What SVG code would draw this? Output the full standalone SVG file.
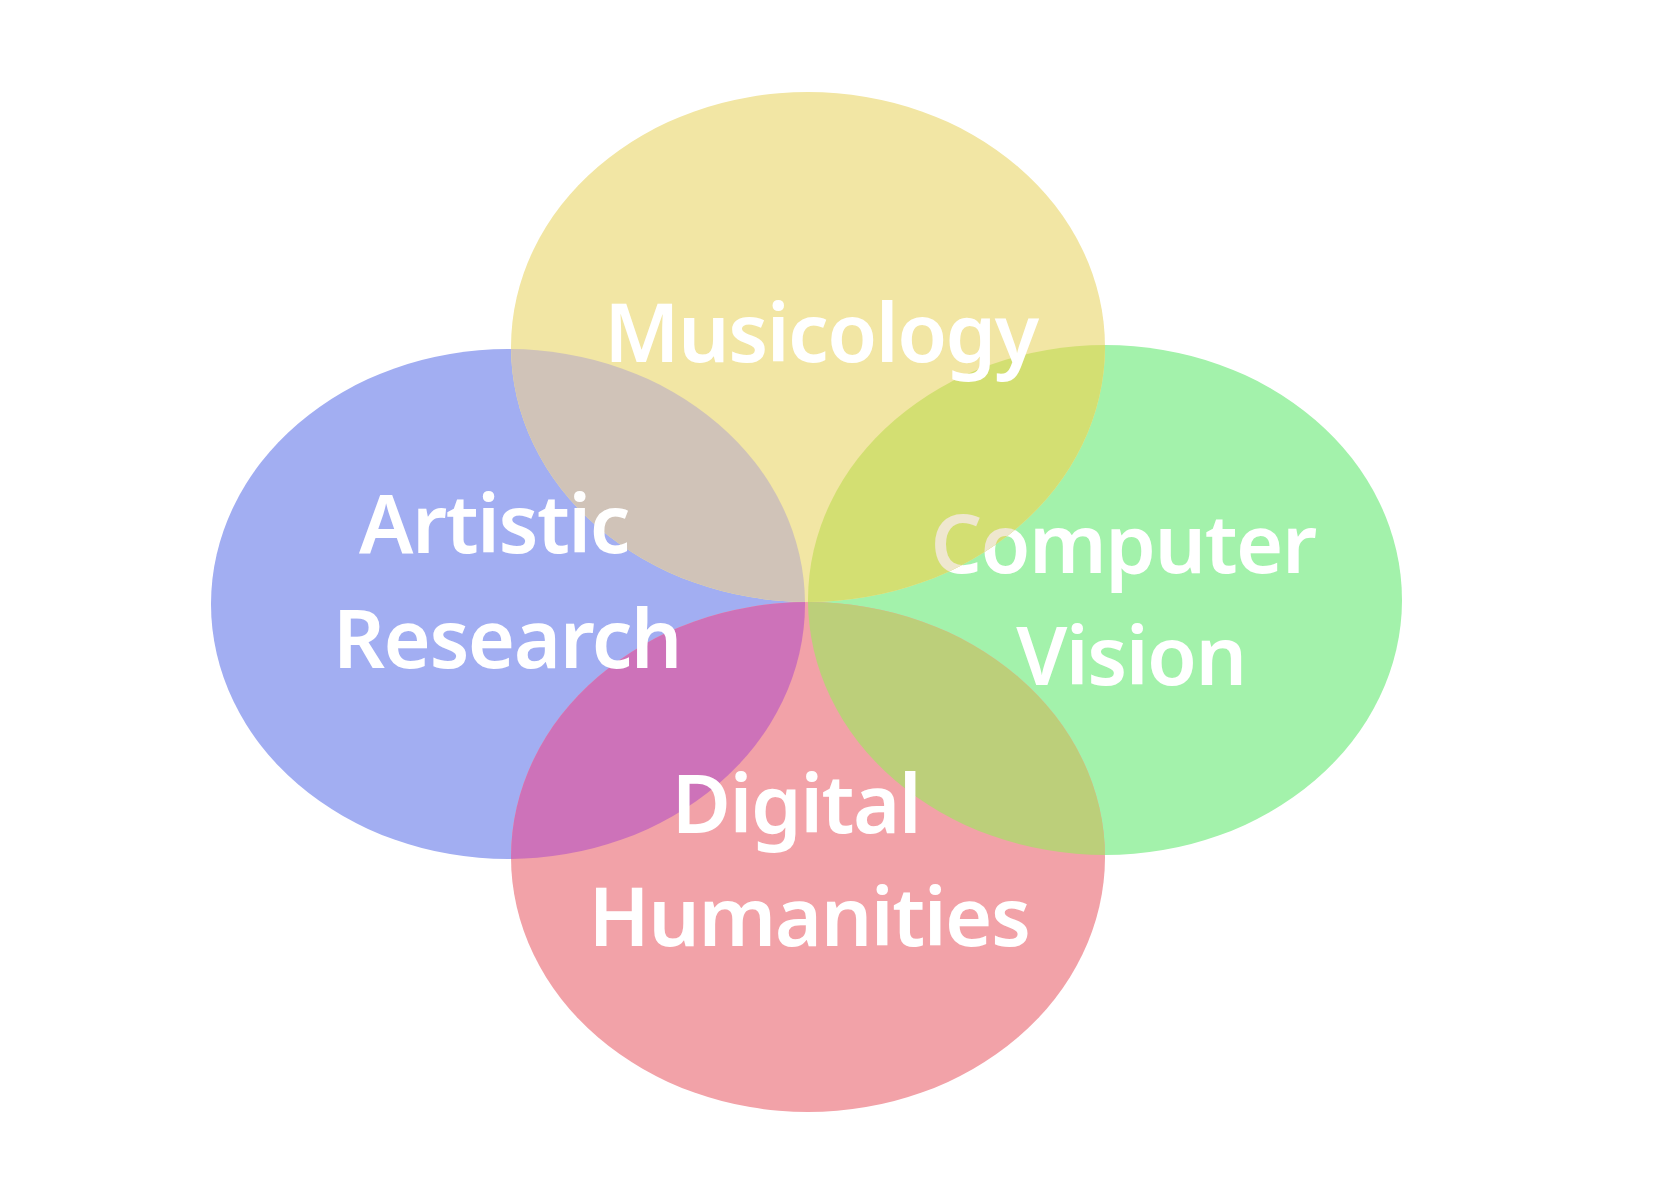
<svg xmlns="http://www.w3.org/2000/svg" width="1667" height="1186" viewBox="0 0 1667 1186">
<style>
  .lbl { font-family: "Noto Sans", "Open Sans", "Liberation Sans", sans-serif; font-weight: 600; font-size: 81px; letter-spacing: -1.5px; fill: #FFFFFF; text-anchor: middle; }
</style>
<defs>
  <clipPath id="cY"><ellipse cx="808" cy="347" rx="297" ry="255"/></clipPath>
  <clipPath id="cB"><ellipse cx="508" cy="604" rx="297" ry="255"/></clipPath>
  <clipPath id="cG"><ellipse cx="1105" cy="600" rx="297" ry="255"/></clipPath>
  <clipPath id="cP"><ellipse cx="808" cy="857" rx="297" ry="255"/></clipPath>
</defs>
<rect width="1667" height="1186" fill="#FFFFFF"/>
<g id="computer-vision">
  <ellipse cx="1105" cy="600" rx="297" ry="255" fill="#A3F2AB"/>
  <text class="lbl" x="1123" y="573">Computer</text>
  <text class="lbl" x="1131" y="685">Vision</text>
</g>
<g id="artistic-research">
  <ellipse cx="508" cy="604" rx="297" ry="255" fill="#A2AEF2"/>
</g>
<g id="digital-humanities">
  <ellipse cx="808" cy="857" rx="297" ry="255" fill="#F2A2A8"/>
</g>
<g id="musicology">
  <ellipse cx="808" cy="347" rx="297" ry="255" fill="#F2E6A4"/>
</g>
<g id="overlaps">
  <g clip-path="url(#cY)"><ellipse cx="508" cy="604" rx="297" ry="255" fill="#D0C3B8"/></g>
  <g clip-path="url(#cY)"><ellipse cx="1105" cy="600" rx="297" ry="255" fill="#D3DF72"/></g>
  <g clip-path="url(#cP)"><ellipse cx="508" cy="604" rx="297" ry="255" fill="#CD72B9"/></g>
  <g clip-path="url(#cP)"><ellipse cx="1105" cy="600" rx="297" ry="255" fill="#BCCF7A"/></g>
  <g clip-path="url(#cY)"><text class="lbl" x="1123" y="573" style="fill:#EFE7CF">Computer</text></g>
</g>
<g id="labels">
  <text class="lbl" x="821" y="362">Musicology</text>
  <text class="lbl" x="494" y="553">Artistic</text>
  <text class="lbl" x="507" y="668">Research</text>
  <text class="lbl" x="796" y="833">Digital</text>
  <text class="lbl" x="809" y="946">Humanities</text>
</g>
</svg>
